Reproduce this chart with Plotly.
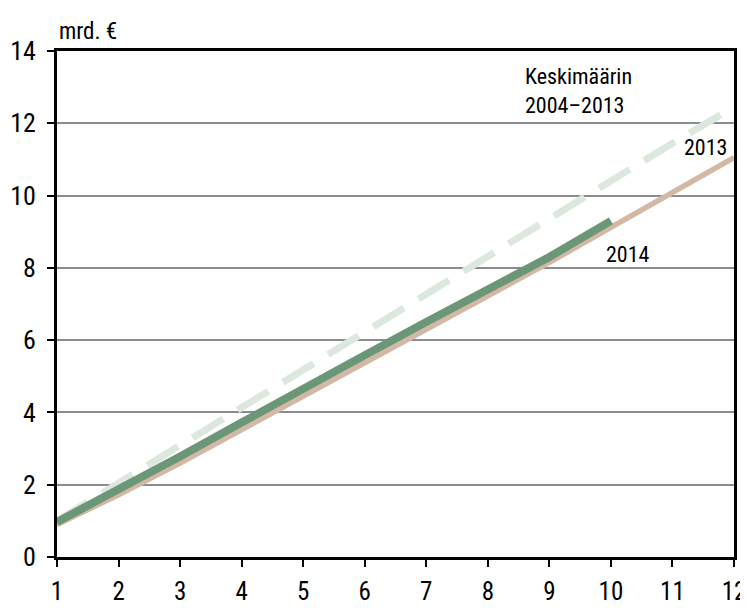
import plotly.graph_objects as go

months = [1, 2, 3, 4, 5, 6, 7, 8, 9, 10, 11, 12]
avg_2004_2013 = [1.0, 2.05, 3.1, 4.15, 5.2, 6.25, 7.3, 8.35, 9.4, 10.45, 11.45, 12.45]
y2013 = [0.9, 1.72, 2.6, 3.52, 4.47, 5.38, 6.3, 7.2, 8.15, 9.12, 10.1, 11.05]
months_2014 = [1, 2, 3, 4, 5, 6, 7, 8, 9, 10]
y2014 = [0.97, 1.85, 2.78, 3.72, 4.68, 5.58, 6.5, 7.4, 8.3, 9.3]

FONT = "Roboto Condensed, DejaVu Sans Condensed, sans-serif"

fig = go.Figure()
fig.add_trace(go.Scatter(x=months, y=avg_2004_2013, mode="lines",
                         line=dict(color="#dce7dd", width=7, dash="36px,17px"),
                         name="Keskimäärin 2004–2013"))
fig.add_trace(go.Scatter(x=months, y=y2013, mode="lines",
                         line=dict(color="#d3b8a5", width=5.5), name="2013"))
fig.add_trace(go.Scatter(x=months_2014, y=y2014, mode="lines",
                         line=dict(color="#6b9677", width=8), name="2014"))

fig.update_layout(
    width=740, height=600,
    margin=dict(l=49, r=14, t=43, b=51),
    paper_bgcolor="white", plot_bgcolor="white",
    showlegend=False,
    font=dict(family=FONT, size=22, color="black"),
)
fig.update_xaxes(range=[1, 12], tickvals=months, ticktext=[str(m) for m in months],
                 showgrid=False, zeroline=False, automargin=False,
                 showline=True, linecolor="black", linewidth=3, mirror=True,
                 ticks="outside", ticklen=7, tickcolor="black", tickwidth=1.5,
                 ticklabelstandoff=3,
                 tickfont=dict(size=25))
fig.update_yaxes(range=[0, 14], tickvals=[0, 2, 4, 6, 8, 10, 12, 14],
                 showgrid=True, gridcolor="#8c8c8c", gridwidth=1.5, zeroline=False,
                 automargin=False,
                 showline=True, linecolor="black", linewidth=3, mirror=True,
                 ticks="outside", ticklen=7, tickcolor="black", tickwidth=1.5,
                 ticklabelstandoff=6,
                 tickfont=dict(size=26))

fig.add_annotation(text="mrd. €", xref="paper", yref="paper", x=0, y=1,
                   xanchor="left", yanchor="bottom", yshift=4, showarrow=False,
                   font=dict(size=23))
fig.add_annotation(text="Keskimäärin<br>2004–2013", xref="x", yref="y", x=8.57, y=12.88,
                   xanchor="left", yanchor="middle", align="left", showarrow=False,
                   font=dict(size=22))
fig.add_annotation(text="2013", xref="x", yref="y", x=11.92, y=11.34,
                   xanchor="right", yanchor="middle", showarrow=False,
                   font=dict(size=22))
fig.add_annotation(text="2014", xref="x", yref="y", x=9.89, y=8.38,
                   xanchor="left", yanchor="middle", showarrow=False,
                   font=dict(size=22))

fig.write_html("out.html")
